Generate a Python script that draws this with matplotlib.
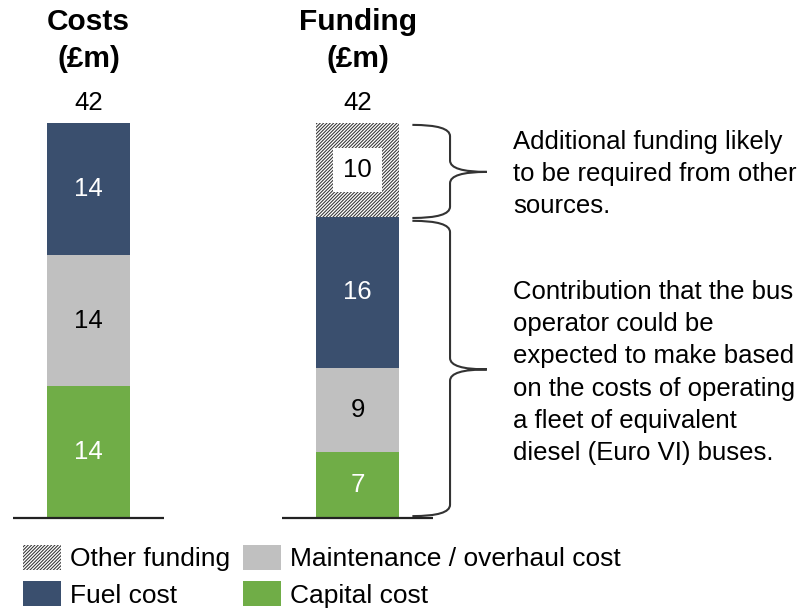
import numpy as np
import matplotlib
matplotlib.use('Agg')
import matplotlib.pyplot as plt
from matplotlib.path import Path
from matplotlib.patches import PathPatch, Patch

plt.rcParams['font.family'] = ['Liberation Sans', 'DejaVu Sans']
plt.rcParams['hatch.linewidth'] = 0.75

# data
columns = ['Costs\n(£m)', 'Funding\n(£m)']
capital = [14, 7]
maintenance = [14, 9]
fuel = [14, 16]
other = [0, 10]
totals = [42, 42]

navy = '#3A4F6E'
grey = '#C0C0C0'
green = '#70AD47'

W, H = 805, 608
fig = plt.figure(figsize=(W / 100, H / 100), dpi=100)

# axes over the whole figure; bar centres at 88.5px and 357.5px, baseline at 518px
px_unit_x = 269.0
px_unit_y = 395.0 / 42
ax = fig.add_axes([0, 0, 1, 1])
ax.set_xlim(-88.5 / px_unit_x, (W - 88.5) / px_unit_x)
ax.set_ylim(-(H - 518) / px_unit_y, 518 / px_unit_y)
ax.axis('off')

def px(x, y):
    # pixel (from top-left) to figure fraction
    return x / W, 1 - y / H

x = np.arange(len(columns))
bw = 83 / px_unit_x
b1 = np.array(capital)
b2 = b1 + np.array(maintenance)
b3 = b2 + np.array(fuel)
ax.bar(x, capital, bw, color=green, linewidth=0)
ax.bar(x, maintenance, bw, bottom=b1, color=grey, linewidth=0)
ax.bar(x, fuel, bw, bottom=b2, color=navy, linewidth=0)
ax.bar(x, other, bw, bottom=b3, color='white', edgecolor='#333333',
       hatch='//////////', linewidth=0)

fs = 18.5
for i in x:
    segs = [(capital[i], 0, 'white'), (maintenance[i], b1[i], 'black'),
            (fuel[i], b2[i], 'white'), (other[i], b3[i], 'black')]
    for j, (v, b, c) in enumerate(segs):
        if v == 0:
            continue
        kw = {}
        if j == 3:
            kw['bbox'] = dict(facecolor='white', edgecolor='none', pad=7)
        ax.text(i, b + v / 2, str(v), ha='center', va='center', color=c,
                fontsize=fs, **kw)
    ax.text(i, totals[i] + 2.1, str(totals[i]), ha='center', va='center',
            fontsize=fs)
    ax.text(i, 50.8, columns[i], ha='center', va='center', fontsize=21.5,
            fontweight='bold', linespacing=1.4)
    ax.plot([i - 0.281, i + 0.281], [0, 0], color='#222222', lw=1.6,
            solid_capstyle='butt')

def brace(y_top, y_bot, y_tip, x0=1.204, xv=1.344, xt=1.481):
    r = 1.2
    verts = [(x0, y_top), (xv, y_top), (xv, y_top - r),
             (xv, y_tip + r),
             (xv, y_tip), (xt, y_tip),
             (xv, y_tip), (xv, y_tip - r),
             (xv, y_bot + r),
             (xv, y_bot), (x0, y_bot)]
    codes = [Path.MOVETO, Path.CURVE3, Path.CURVE3, Path.LINETO,
             Path.CURVE3, Path.CURVE3, Path.CURVE3, Path.CURVE3,
             Path.LINETO, Path.CURVE3, Path.CURVE3]
    ax.add_patch(PathPatch(Path(verts, codes), facecolor='none',
                           edgecolor='#333333', lw=1.5))

brace(41.8, 31.9, 36.8)
brace(31.6, 0.2, 15.8)

fig.text(*px(513, 130), 'Additional funding likely\nto be required from other\nsources.',
         ha='left', va='top', fontsize=18.5, linespacing=1.43)
fig.text(*px(513, 280), 'Contribution that the bus\noperator could be\nexpected to make based\n'
         'on the costs of operating\na fleet of equivalent\ndiesel (Euro VI) buses.',
         ha='left', va='top', fontsize=18.5, linespacing=1.43)

handles = [Patch(facecolor='white', edgecolor='#333333', hatch='//////////', linewidth=0),
           Patch(facecolor=navy), Patch(facecolor=grey), Patch(facecolor=green)]
labels = ['Other funding', 'Fuel cost', 'Maintenance / overhaul cost', 'Capital cost']
fig.legend(handles, labels, ncol=2, loc='upper left', bbox_to_anchor=px(23, 545),
           frameon=False, fontsize=19, handlelength=1.44, handleheight=1.06,
           handletextpad=0.34, labelspacing=0.38, columnspacing=0.5,
           borderaxespad=0, borderpad=0)

fig.savefig('out.png', dpi=100)
